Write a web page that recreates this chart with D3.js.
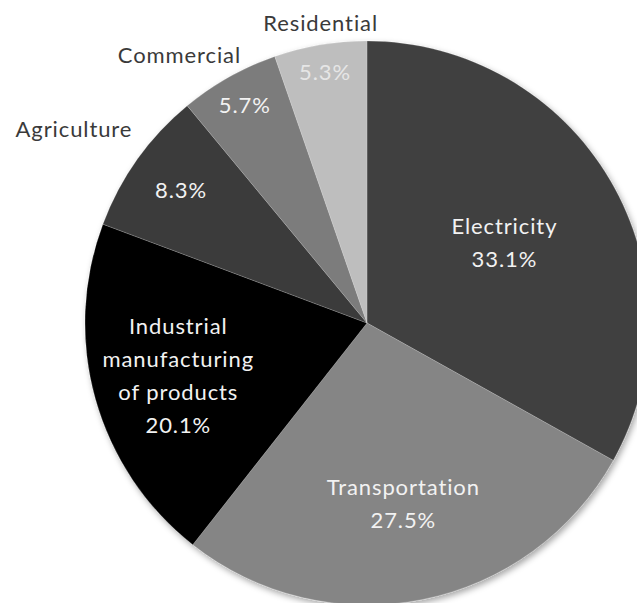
<!DOCTYPE html>
<html>
<head>
<meta charset="utf-8">
<script src="https://cdn.jsdelivr.net/npm/d3@7"></script>
<style>
  html, body { margin: 0; padding: 0; background: #fff; }
  svg { display: block; }
  text { font-family: Lato, "Open Sans", sans-serif; letter-spacing: 0.9px; }
</style>
</head>
<body>
<svg id="chart" width="637" height="603"></svg>
<script>
// Sectors of emissions, clockwise from 12 o'clock
const categories = ["Electricity", "Transportation", "Industrial manufacturing of products", "Agriculture", "Commercial", "Residential"];
const shares = [33.1, 27.5, 20.1, 8.3, 5.7, 5.3];
const sliceColors = ["#414141", "#858585", "#000000", "#3b3b3b", "#7b7b7b", "#bebebe"];

// Label layout: names drawn inside large slices, outside small ones
const nameLines = [["Electricity"], ["Transportation"], ["Industrial", "manufacturing", "of products"], ["Agriculture"], ["Commercial"], ["Residential"]];
const nameInside = [true, true, true, false, false, false];
const insideRadius = [0.565, 0.655, 0.695, 0.81, 0.885, 0.9];
const outsidePlacement = [null, null, null, { angle: -56.6, r: 1.245 }, { angle: -35, r: 1.16 }, { angle: -8.8, r: 1.075 }];

const W = 637, H = 603;
const cx = 367, cy = 323, R = 282;
const lineGap = 33;
const fontSize = 22;

const svg = d3.select("#chart");
const defs = svg.append("defs");
const shadow = defs.append("filter").attr("id", "pieShadow")
  .attr("x", "-10%").attr("y", "-10%").attr("width", "120%").attr("height", "120%");
shadow.append("feDropShadow").attr("dx", 2).attr("dy", 3).attr("stdDeviation", 3)
  .attr("flood-color", "#000").attr("flood-opacity", 0.35);

const pie = d3.pie().sort(null).value(d => d)
  .startAngle(0).endAngle(2 * Math.PI);
const arcs = pie(shares);
const arc = d3.arc().innerRadius(0).outerRadius(R);

const g = svg.append("g").attr("transform", `translate(${cx},${cy})`);

g.append("g").attr("filter", "url(#pieShadow)")
  .selectAll("path").data(arcs).join("path")
  .attr("d", arc)
  .attr("fill", (d, i) => sliceColors[i])
  .attr("stroke", "rgba(255,255,255,0.18)")
  .attr("stroke-width", 1);

const fmt = v => v.toFixed(1) + "%";
const polar = (a, r) => [Math.sin(a) * r, -Math.cos(a) * r];

arcs.forEach((d, i) => {
  const mid = (d.startAngle + d.endAngle) / 2;
  const [px, py] = polar(mid, R * insideRadius[i]);
  if (nameInside[i]) {
    const lines = nameLines[i].concat([fmt(shares[i])]);
    const top = py - (lines.length - 1) * lineGap / 2;
    const t = g.append("text")
      .attr("text-anchor", "middle")
      .attr("fill", "#f2f2f2")
      .attr("font-size", fontSize);
    lines.forEach((s, k) => {
      t.append("tspan").attr("x", px).attr("y", top + k * lineGap).attr("dy", "0.35em").text(s);
    });
  } else {
    g.append("text")
      .attr("x", px).attr("y", py).attr("dy", "0.35em")
      .attr("text-anchor", "middle")
      .attr("fill", i === 5 ? "#e6e6e6" : "#f2f2f2")
      .attr("font-size", fontSize)
      .text(fmt(shares[i]));
    const p = outsidePlacement[i];
    const [ox, oy] = polar(p.angle * Math.PI / 180, R * p.r);
    g.append("text")
      .attr("x", ox).attr("y", oy).attr("dy", "0.35em")
      .attr("text-anchor", "middle")
      .attr("fill", "#3a3a3a")
      .attr("font-size", fontSize)
      .text(nameLines[i][0]);
  }
});
</script>
</body>
</html>
